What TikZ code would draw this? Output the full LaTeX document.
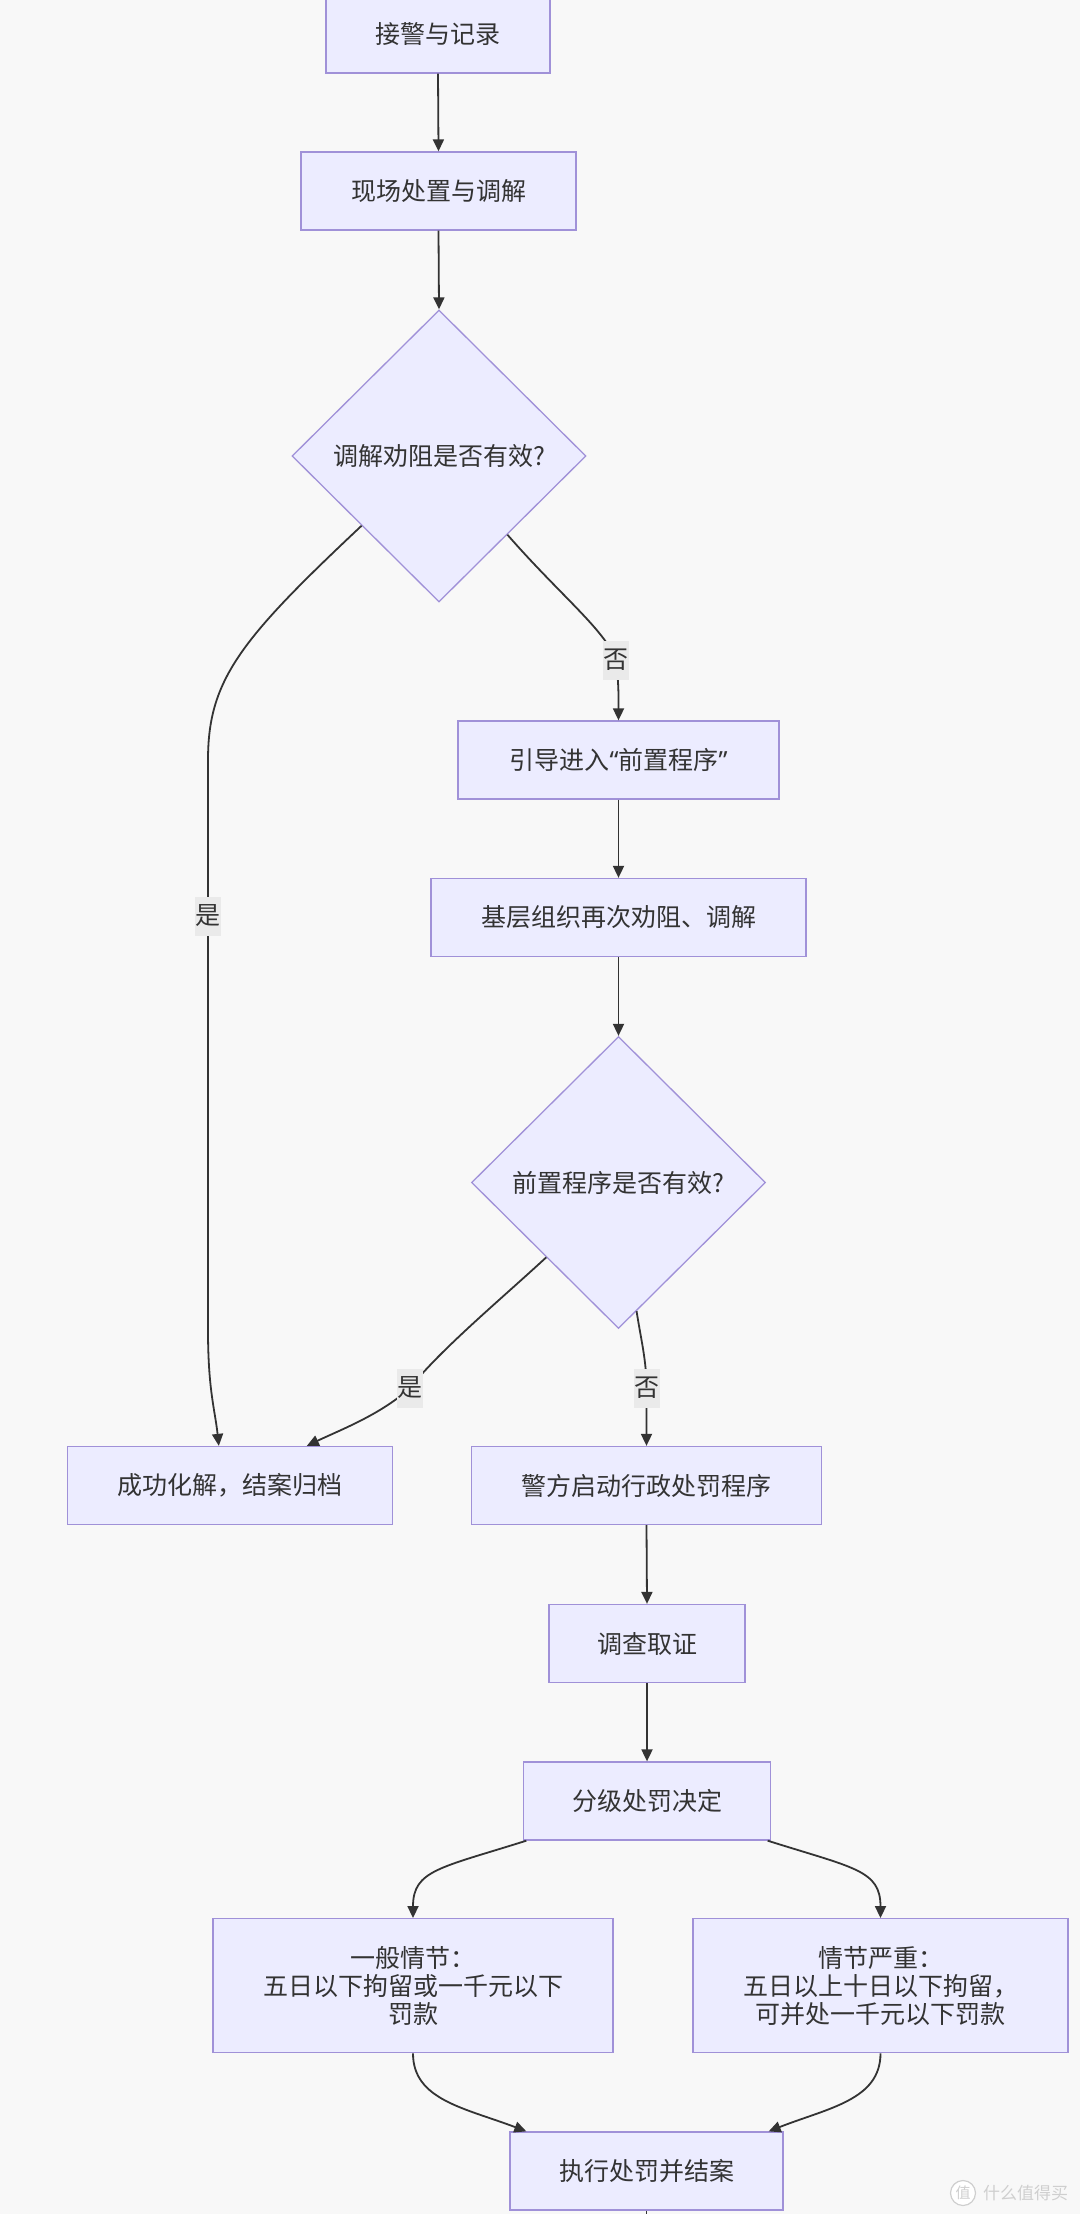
\documentclass[tikz,border=0pt]{standalone}
\usepackage{fontspec}
\newfontfamily\cjk{Noto Sans CJK SC}
\newfontfamily\lat{Noto Sans}
\usetikzlibrary{shapes.geometric,arrows.meta}
\definecolor{bg}{HTML}{F8F8F8}
\definecolor{boxfill}{HTML}{ECECFF}
\definecolor{boxdraw}{HTML}{A091D8}
\definecolor{ink}{HTML}{333333}
\definecolor{lblbg}{HTML}{EAEAEA}
\definecolor{wm}{HTML}{CFCFCF}
\begin{document}
\begin{tikzpicture}[x=1pt,y=-1pt,
  txt/.style={font=\cjk\fontsize{25}{28}\selectfont, text=ink},
  proc/.style={txt, rectangle, draw=boxdraw, fill=boxfill, line width=1.3pt,
    align=center, inner sep=0pt, minimum height=78pt},
  decis/.style={txt, diamond, draw=boxdraw, fill=boxfill, line width=1.3pt,
    inner sep=0pt, minimum width=294pt, minimum height=292pt},
  arr/.style={draw=ink, line width=1.8pt, -{Triangle[length=12pt,width=11pt]}},
  plainline/.style={draw=ink, line width=1.8pt},
  lbl/.style={txt, fill=lblbg, inner sep=0pt, minimum width=26pt, minimum height=39pt},
  wmtext/.style={font=\cjk\fontsize{17}{20}\selectfont, text=wm, inner sep=0pt}
]
\useasboundingbox[fill=bg] (0,0) rectangle (1080,2214);

% nodes
\node[proc, minimum width=224pt] (n1) at (438,34) {接警与记录};
\node[proc, minimum width=275pt] (n2) at (438.5,191) {现场处置与调解};
\node[decis] (d1) at (439,456) {调解劝阻是否有效?};
\node[proc, minimum width=321pt] (n3) at (618.5,760) {引导进入{\lat “}前置程序{\lat ”}};
\node[proc, minimum width=375pt] (n4) at (618.5,917.5) {基层组织再次劝阻、调解};
\node[decis] (d2) at (618.5,1182.5) {前置程序是否有效?};
\node[proc, minimum width=325pt] (n5) at (230,1485.5) {成功化解，结案归档};
\node[proc, minimum width=350pt] (n6) at (646.5,1485.5) {警方启动行政处罚程序};
\node[proc, minimum width=196pt] (n7) at (647,1643.5) {调查取证};
\node[proc, minimum width=247pt] (n8) at (647,1801) {分级处罚决定};
\node[proc, minimum width=400pt, minimum height=134pt] (n9) at (413,1985.7)
  {一般情节：\\五日以下拘留或一千元以下\\罚款};
\node[proc, minimum width=375pt, minimum height=134pt] (n10) at (880.5,1985.7)
  {情节严重：\\五日以上十日以下拘留，\\可并处一千元以下罚款};
\node[proc, minimum width=273pt] (n11) at (646.5,2171) {执行处罚并结案};
\coordinate (exit) at (646.5,2240);

% connectors
\draw[arr] (n1.south) -- (n2.north);
\draw[arr] (n2.south) -- (d1.north);
\draw[arr] (d1.-49) .. controls (560,595) and (605,630) .. (616,660) node[lbl]{否}
  .. controls (619,685) and (618.5,700) .. (n3.north);
\draw[arr] (d1.-138) .. controls (240,640) and (208,680) .. (208,760)
  -- (208,916) node[lbl]{是} -- (208,1330)
  .. controls (208,1390) and (215,1410) .. ([xshift=152pt]n5.north west);
\draw[arr] (n3.south) -- (n4.north);
\draw[arr] (n4.south) -- (d2.north);
\draw[arr] (d2.-134) .. controls (500,1300) and (440,1350) .. (410,1388) node[lbl]{是}
  .. controls (380,1415) and (340,1430) .. ([xshift=240pt]n5.north west);
\draw[arr] (d2.-82) .. controls (641,1340) and (646.5,1360) .. (646.5,1388) node[lbl]{否}
  -- (n6.north);
\draw[arr] (n6.south) -- (n7.north);
\draw[arr] (n7.south) -- (n8.north);
\draw[arr] ([xshift=3.5pt]n8.south west) .. controls (440,1868) and (413,1870) .. (n9.north);
\draw[arr] ([xshift=-3.5pt]n8.south east) .. controls (854,1868) and (880.5,1870) .. (n10.north);
\draw[arr] (n9.south) .. controls (413,2100) and (465,2108) .. ([xshift=17pt]n11.north west);
\draw[arr] (n10.south) .. controls (880.5,2100) and (828,2108) .. ([xshift=-15pt]n11.north east);
\draw[plainline] (n11.south) -- (exit);

% watermark
\node[circle, draw=wm, line width=1.2pt, fill=white, minimum size=25pt, inner sep=0pt,
  font=\cjk\fontsize{15}{15}\selectfont, text=wm] (wmlogo) at (963,2193) {值};
\node[wmtext, anchor=west] (wmname) at (983,2193) {什么值得买};
\end{tikzpicture}
\end{document}
